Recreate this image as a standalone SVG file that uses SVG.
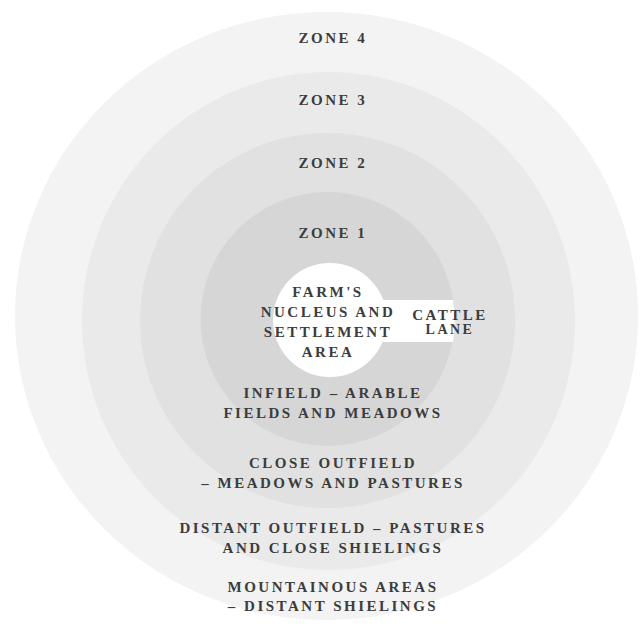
<svg xmlns="http://www.w3.org/2000/svg" width="642" height="628" viewBox="0 0 642 628">
<style>
.t{font-family:"Liberation Serif","Times New Roman",serif;font-size:15px;font-weight:bold;fill:#3c3c3c;letter-spacing:2.5px;text-anchor:middle}
</style>
<rect x="0" y="0" width="642" height="628" fill="#ffffff"/>
<g id="zone4">
<ellipse cx="326.5" cy="316" rx="311.5" ry="304" fill="#f3f3f3"/>
<text class="t" x="333" y="43">ZONE 4</text>
<text class="t" x="333" y="592">MOUNTAINOUS AREAS</text>
<text class="t" x="333" y="611">– DISTANT SHIELINGS</text>
</g>
<g id="zone3">
<ellipse cx="328.5" cy="321" rx="246.5" ry="249" fill="#eaeaea"/>
<text class="t" x="333" y="105">ZONE 3</text>
<text class="t" x="333" y="533">DISTANT OUTFIELD – PASTURES</text>
<text class="t" x="333" y="553">AND CLOSE SHIELINGS</text>
</g>
<g id="zone2">
<circle cx="327.5" cy="320.5" r="187.5" fill="#e1e1e1"/>
<text class="t" x="333" y="168">ZONE 2</text>
<text class="t" x="333" y="468">CLOSE OUTFIELD</text>
<text class="t" x="333" y="488">– MEADOWS AND PASTURES</text>
</g>
<g id="zone1">
<circle cx="327.5" cy="319" r="127" fill="#d6d6d6"/>
<text class="t" x="333" y="238">ZONE 1</text>
<text class="t" x="333" y="398">INFIELD – ARABLE</text>
<text class="t" x="333" y="418">FIELDS AND MEADOWS</text>
</g>
<g id="cattle-lane">
<path d="M330 300 L453 300 A127 127 0 0 1 453 342 L330 342 Z" fill="#ffffff"/>
<text class="t" x="450" y="320">CATTLE</text>
<text class="t" x="450" y="334" style="font-size:14px">LANE</text>
</g>
<g id="farm-nucleus">
<circle cx="330" cy="320" r="57" fill="#ffffff"/>
<text class="t" x="328" y="297">FARM'S</text>
<text class="t" x="328" y="317">NUCLEUS AND</text>
<text class="t" x="328" y="337">SETTLEMENT</text>
<text class="t" x="328" y="357">AREA</text>
</g>
</svg>
